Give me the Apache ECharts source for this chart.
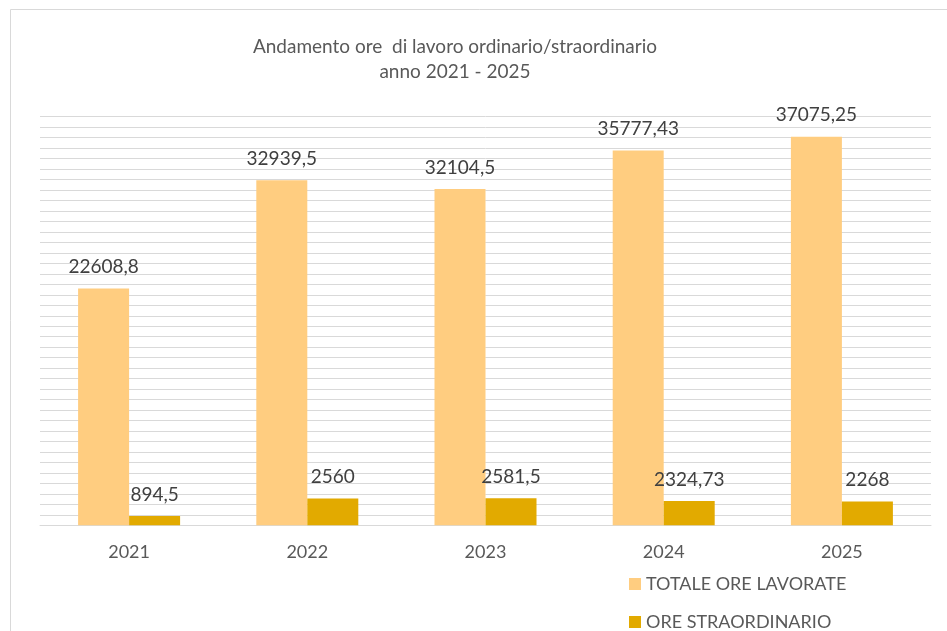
<!DOCTYPE html>
<html>
<head>
<meta charset="utf-8">
<script src="https://cdn.jsdelivr.net/npm/echarts@6/dist/echarts.min.js"></script>
<style>
html,body{margin:0;padding:0;background:#fff;}
#chart{width:947px;height:631px;}
</style>
</head>
<body>
<div id="chart"></div>
<script>
const categories = ['2021', '2022', '2023', '2024', '2025'];
const totaleOre = [22608.8, 32939.5, 32104.5, 35777.43, 37075.25];
const oreStraordinario = [894.5, 2560, 2581.5, 2324.73, 2268];
const seriesNames = ['TOTALE ORE LAVORATE', 'ORE STRAORDINARIO'];
const titleLines = ['Andamento ore  di lavoro ordinario/straordinario', 'anno 2021 - 2025'];

const FONT = 'Lato';
const fmt = v => String(v).replace('.', ',');

const legendBase = {
  orient: 'horizontal',
  left: 624,
  icon: 'rect',
  itemWidth: 12,
  itemHeight: 12,
  itemGap: 10,
  textStyle: {color: '#595959', fontSize: 18, fontFamily: FONT}
};

const chart = echarts.init(document.getElementById('chart'), null, {renderer: 'canvas'});
chart.setOption({
  animation: false,
  textStyle: {fontFamily: FONT},
  graphic: [
    {type: 'rect', shape: {x: 10.5, y: 9.5, width: 2000, height: 2000}, style: {fill: 'none', stroke: '#d9d9d9', lineWidth: 1}, z: -1},
    {type: 'text', x: 455, y: 47, style: {text: titleLines[0], fill: '#595959', font: '19px ' + FONT, textAlign: 'center', textVerticalAlign: 'middle'}},
    {type: 'text', x: 455, y: 72, style: {text: titleLines[1], fill: '#595959', font: '19px ' + FONT, textAlign: 'center', textVerticalAlign: 'middle'}}
  ],
  legend: [
    Object.assign({}, legendBase, {top: 570, data: [seriesNames[0]]}),
    Object.assign({}, legendBase, {top: 608, data: [seriesNames[1]]})
  ],
  grid: {left: 40, right: 16, top: 116.7, bottom: 105.7, containLabel: false},
  xAxis: {
    type: 'category',
    data: categories,
    axisLine: {lineStyle: {color: '#d9d9d9', width: 1}},
    axisTick: {show: false},
    axisLabel: {color: '#595959', fontSize: 18, margin: 18, fontFamily: FONT}
  },
  yAxis: {
    type: 'value',
    min: 0,
    max: 39000,
    interval: 1000,
    axisLabel: {show: false},
    axisLine: {show: false},
    axisTick: {show: false},
    splitLine: {lineStyle: {color: '#d9d9d9', width: 1}}
  },
  series: [
    {
      name: seriesNames[0],
      type: 'bar',
      data: totaleOre,
      barWidth: 51,
      barGap: '0%',
      itemStyle: {color: '#FFCD80'},
      label: {show: true, position: 'top', distance: 12, color: '#404040', fontSize: 19, fontFamily: FONT, formatter: p => fmt(p.value)}
    },
    {
      name: seriesNames[1],
      type: 'bar',
      data: oreStraordinario,
      barWidth: 51,
      barGap: '0%',
      itemStyle: {color: '#E2AA00'},
      label: {show: true, position: 'top', distance: 12, color: '#404040', fontSize: 19, fontFamily: FONT, formatter: p => fmt(p.value)}
    }
  ]
});
</script>
</body>
</html>
